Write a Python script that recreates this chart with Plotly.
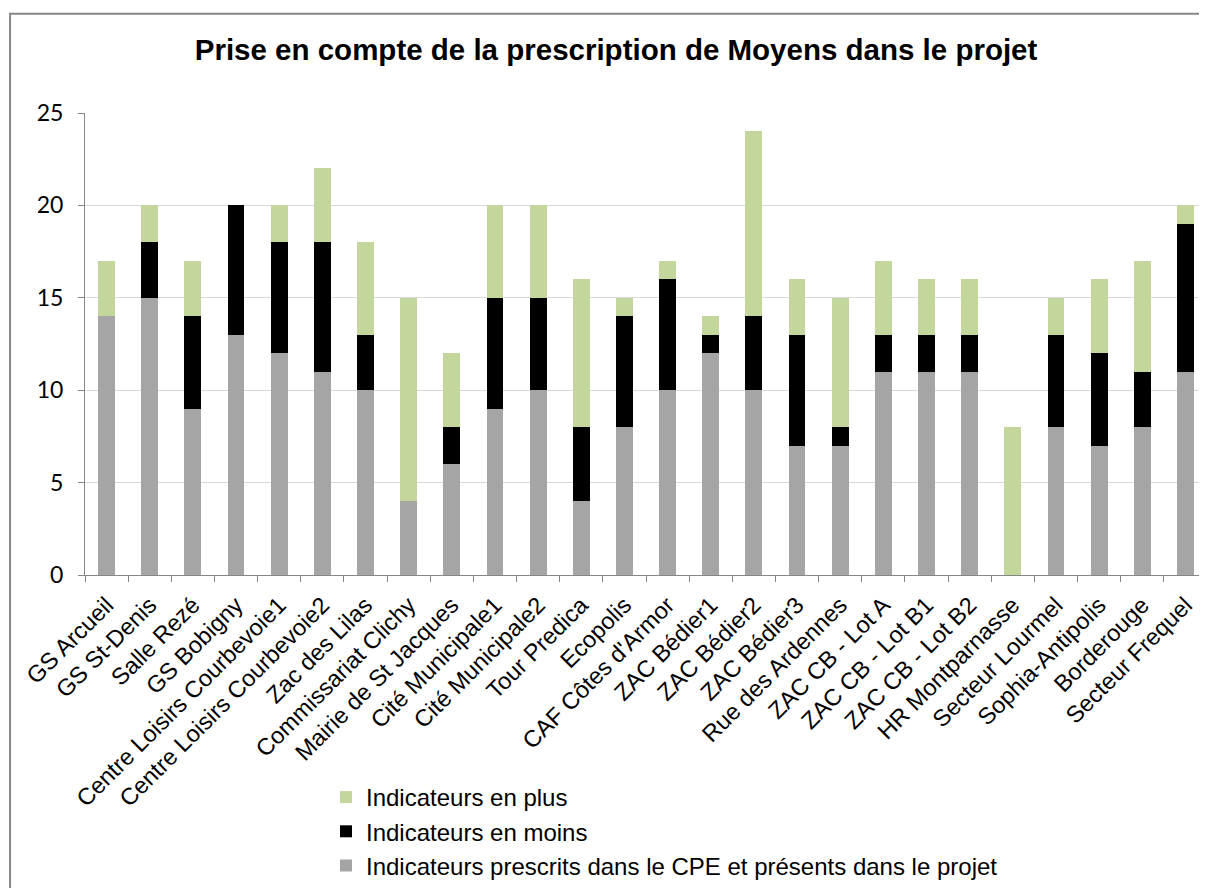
import plotly.graph_objects as go

categories = ["GS Arcueil", "GS St-Denis", "Salle Rezé", "GS Bobigny", "Centre Loisirs Courbevoie1",
              "Centre Loisirs Courbevoie2", "Zac des Lilas", "Commissariat Clichy", "Mairie de St Jacques",
              "Cité Municipale1", "Cité Municipale2", "Tour Predica", "Ecopolis", "CAF Côtes d'Armor",
              "ZAC Bédier1", "ZAC Bédier2", "ZAC Bédier3", "Rue des Ardennes", "ZAC CB - Lot A",
              "ZAC CB - Lot B1", "ZAC CB - Lot B2", "HR Montparnasse", "Secteur Lourmel",
              "Sophia-Antipolis", "Borderouge", "Secteur Frequel"]
prescrits = [14, 15, 9, 13, 12, 11, 10, 4, 6, 9, 10, 4, 8, 10, 12, 10, 7, 7, 11, 11, 11, 0, 8, 7, 8, 11]
en_moins = [0, 3, 5, 7, 6, 7, 3, 0, 2, 6, 5, 4, 6, 6, 1, 4, 6, 1, 2, 2, 2, 0, 5, 5, 3, 8]
en_plus = [3, 2, 3, 0, 2, 4, 5, 11, 4, 5, 5, 8, 1, 1, 1, 10, 3, 7, 4, 3, 3, 8, 2, 4, 6, 1]
y_ticks = [0, 5, 10, 15, 20, 25]

FONT = "Liberation Sans, Arial, sans-serif"

fig = go.Figure()
fig.add_trace(go.Bar(x=categories, y=prescrits, name="Indicateurs prescrits dans le CPE et présents dans le projet",
                     marker=dict(color="#A5A5A5", line=dict(width=0))))
fig.add_trace(go.Bar(x=categories, y=en_moins, name="Indicateurs en moins",
                     marker=dict(color="#000000", line=dict(width=0))))
fig.add_trace(go.Bar(x=categories, y=en_plus, name="Indicateurs en plus",
                     marker=dict(color="#C3D69B", line=dict(width=0))))

fig.update_layout(
    width=1199, height=880,
    barmode="stack", bargap=0.61,
    paper_bgcolor="white", plot_bgcolor="white",
    margin=dict(l=77, r=0, t=105, b=309),
    font=dict(family=FONT, color="#000000"),
    title=dict(text="<b>Prise en compte de la prescription de Moyens dans le projet</b>",
               x=0.4733, xref="paper", xanchor="center", y=1 - 42 / 880, yanchor="middle",
               font=dict(size=29.5, family=FONT, color="#000000")),
    showlegend=True,
    legend=dict(traceorder="reversed", orientation="v", x=0.2148, xanchor="left",
                y=-0.4335, yanchor="top", font=dict(size=24, family=FONT),
                bgcolor="rgba(0,0,0,0)", itemwidth=30, tracegroupgap=0),
    xaxis=dict(type="category", tickangle=-45, tickson="boundaries", ticks="outside", ticklen=6,
               tickcolor="#868686", showline=True, linecolor="#868686", linewidth=1,
               tickfont=dict(size=23.5, family=FONT), showgrid=False, ticklabelstandoff=6),
    yaxis=dict(range=[0, 25], tickvals=y_ticks, ticks="outside", ticklen=6, tickcolor="#868686",
               showline=True, linecolor="#868686", linewidth=1, showgrid=True, gridcolor="#D9D9D9",
               tickfont=dict(size=23, family="Lato, Open Sans, sans-serif"), zeroline=False,
               ticklabelstandoff=10),
    shapes=[dict(type="rect", xref="paper", yref="paper", x0=-0.0668, y0=-1.0, x1=1.2, y1=1.2146,
                 line=dict(color="#868686", width=2), fillcolor="rgba(0,0,0,0)", layer="below")],
)

fig.write_html("out.html")
